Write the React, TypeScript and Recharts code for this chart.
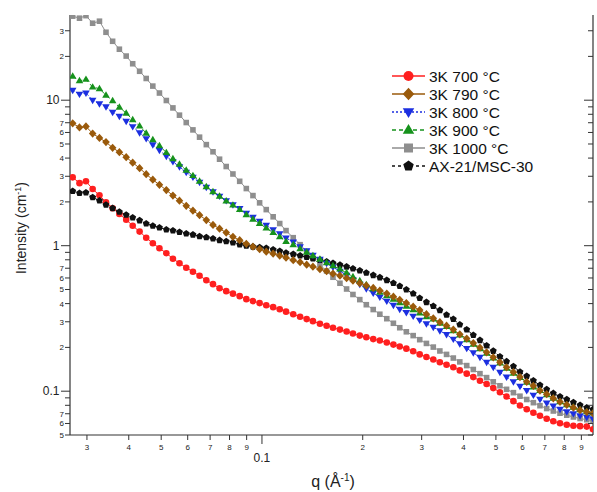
import React from 'react';
import { LineChart, Line, XAxis, YAxis, Legend } from 'recharts';

const FONT = "'Liberation Sans', Arial, Helvetica, sans-serif";

// q values (Å^-1)
const qValues = [
  0.0272, 0.0285, 0.0298, 0.0312, 0.0327, 0.0342, 0.0358, 0.0375, 0.0393, 0.0411,
  0.0431, 0.0451, 0.0472, 0.0494, 0.0518, 0.0542, 0.0567, 0.0594, 0.0622, 0.0651,
  0.0682, 0.0714, 0.0747, 0.0782, 0.0819, 0.0858, 0.0898, 0.094, 0.0984, 0.103,
  0.108, 0.113, 0.118, 0.124, 0.13, 0.136, 0.142, 0.149, 0.156, 0.163,
  0.171, 0.179, 0.187, 0.196, 0.205, 0.215, 0.225, 0.236, 0.247, 0.258,
  0.27, 0.283, 0.296, 0.31, 0.325, 0.34, 0.356, 0.373, 0.39, 0.409,
  0.428, 0.448, 0.469, 0.491, 0.514, 0.538, 0.564, 0.59, 0.618, 0.647,
  0.677, 0.709, 0.742, 0.777, 0.814, 0.852, 0.892, 0.934, 0.975,
];

const i700 = [
  2.95, 2.69, 2.77, 2.45, 2.22, 1.99, 1.81, 1.65, 1.51, 1.37,
  1.25, 1.135, 1.04, 0.961, 0.888, 0.814, 0.758, 0.706, 0.662, 0.622,
  0.579, 0.544, 0.51, 0.487, 0.468, 0.45, 0.429, 0.416, 0.403, 0.39,
  0.378, 0.366, 0.352, 0.338, 0.325, 0.313, 0.303, 0.291, 0.282, 0.273,
  0.265, 0.257, 0.249, 0.241, 0.235, 0.228, 0.223, 0.216, 0.209, 0.203,
  0.196, 0.188, 0.179, 0.172, 0.165, 0.158, 0.152, 0.146, 0.139, 0.132,
  0.125, 0.118, 0.112, 0.105, 0.0984, 0.0919, 0.0854, 0.0798, 0.0752, 0.0711,
  0.0678, 0.0647, 0.0622, 0.0602, 0.0588, 0.0579, 0.0575, 0.0571, 0.0548,
];

const i790 = [
  6.93, 6.5, 6.6, 5.9, 5.5, 5.15, 4.71, 4.39, 4.06, 3.72,
  3.41, 3.1, 2.84, 2.62, 2.41, 2.21, 2.04, 1.88, 1.74, 1.62,
  1.5, 1.39, 1.31, 1.23, 1.15, 1.09, 1.03, 0.984, 0.946, 0.909,
  0.881, 0.854, 0.827, 0.795, 0.77, 0.74, 0.717, 0.689, 0.668, 0.642,
  0.622, 0.598, 0.575, 0.553, 0.532, 0.512, 0.492, 0.469, 0.446, 0.425,
  0.403, 0.381, 0.361, 0.338, 0.317, 0.298, 0.282, 0.265, 0.246, 0.23,
  0.214, 0.199, 0.185, 0.171, 0.158, 0.146, 0.135, 0.125, 0.116, 0.109,
  0.101, 0.0953, 0.0894, 0.0846, 0.0806, 0.077, 0.0741, 0.0719, 0.0704,
];

const i800 = [
  11.7, 11.0, 11.2, 9.99, 9.44, 9.02, 8.27, 7.76, 7.17, 6.58,
  5.98, 5.44, 4.94, 4.53, 4.12, 3.78, 3.49, 3.2, 2.96, 2.73,
  2.52, 2.35, 2.19, 2.04, 1.91, 1.8, 1.67, 1.57, 1.47, 1.38,
  1.29, 1.21, 1.13, 1.06, 0.984, 0.924, 0.861, 0.808, 0.758, 0.712,
  0.668, 0.627, 0.584, 0.543, 0.506, 0.472, 0.443, 0.416, 0.39, 0.366,
  0.347, 0.328, 0.308, 0.291, 0.275, 0.26, 0.245, 0.228, 0.212, 0.197,
  0.184, 0.171, 0.158, 0.146, 0.135, 0.125, 0.116, 0.108, 0.101, 0.094,
  0.0881, 0.0829, 0.079, 0.0752, 0.0723, 0.0701, 0.0678, 0.0662, 0.0647,
];

const i900 = [
  14.6, 13.6, 13.9, 12.3, 12.0, 10.8, 9.9, 8.95, 8.14, 7.33,
  6.64, 5.93, 5.35, 4.87, 4.36, 3.96, 3.63, 3.3, 3.03, 2.77,
  2.54, 2.35, 2.19, 2.03, 1.9, 1.77, 1.63, 1.52, 1.42, 1.32,
  1.23, 1.15, 1.07, 1.016, 0.954, 0.902, 0.854, 0.807, 0.764, 0.729,
  0.69, 0.652, 0.612, 0.575, 0.539, 0.506, 0.479, 0.453, 0.429, 0.406,
  0.384, 0.363, 0.344, 0.325, 0.313, 0.293, 0.278, 0.26, 0.243, 0.226,
  0.21, 0.196, 0.182, 0.169, 0.156, 0.144, 0.133, 0.124, 0.115, 0.107,
  0.101, 0.0945, 0.0894, 0.0846, 0.0806, 0.0775, 0.0746, 0.0723, 0.0707,
];

const i1000 = [
  37.8, 36.6, 38.1, 33.8, 34.9, 29.3, 25.4, 22.4, 20.1, 17.8,
  15.8, 14.1, 12.5, 11.2, 9.95, 8.85, 7.89, 7.02, 6.25, 5.57,
  4.95, 4.42, 3.93, 3.5, 3.11, 2.77, 2.47, 2.21, 1.97, 1.77,
  1.58, 1.42, 1.27, 1.135, 1.016, 0.912, 0.821, 0.74, 0.67, 0.607,
  0.552, 0.504, 0.462, 0.426, 0.393, 0.364, 0.338, 0.315, 0.293, 0.273,
  0.256, 0.241, 0.226, 0.213, 0.201, 0.189, 0.179, 0.169, 0.159, 0.15,
  0.141, 0.132, 0.124, 0.116, 0.109, 0.103, 0.0977, 0.0924, 0.0877, 0.0834,
  0.0795, 0.076, 0.0731, 0.0706, 0.0684, 0.0665, 0.0649, 0.0637, 0.0627,
];

const iAX = [
  2.37, 2.3, 2.32, 2.15, 2.04, 1.91, 1.81, 1.71, 1.63, 1.56,
  1.49, 1.42, 1.37, 1.33, 1.29, 1.27, 1.24, 1.21, 1.19, 1.16,
  1.14, 1.12, 1.09, 1.07, 1.05, 1.02, 1.0, 0.984, 0.972, 0.961,
  0.939, 0.917, 0.893, 0.874, 0.854, 0.834, 0.817, 0.798, 0.776, 0.758,
  0.737, 0.717, 0.695, 0.674, 0.65, 0.627, 0.605, 0.579, 0.553, 0.527,
  0.499, 0.468, 0.436, 0.409, 0.384, 0.36, 0.335, 0.313, 0.287, 0.265,
  0.243, 0.224, 0.206, 0.189, 0.173, 0.16, 0.148, 0.136, 0.127, 0.118,
  0.11, 0.103, 0.0968, 0.0918, 0.0877, 0.0837, 0.0802, 0.0772, 0.0749,
];

const seriesNames = ['3K 700 °C', '3K 790 °C', '3K 800 °C', '3K 900 °C', '3K 1000 °C', 'AX-21/MSC-30'];

const xTickValues = [0.03, 0.04, 0.05, 0.06, 0.07, 0.08, 0.09, 0.1, 0.2, 0.3, 0.4, 0.5, 0.6, 0.7, 0.8, 0.9];
const xTickLabels = ['3', '4', '5', '6', '7', '8', '9', '0.1', '2', '3', '4', '5', '6', '7', '8', '9'];
const xMajorTicks = [0.1];

const yTickValues = [0.05, 0.06, 0.07, 0.08, 0.09, 0.1, 0.2, 0.3, 0.4, 0.5, 0.6, 0.7, 0.8, 0.9, 1, 2, 3, 4, 5, 6, 7, 8, 9, 10, 20, 30];
const yTickLabels = ['5', '6', '7', '', '', '0.1', '2', '3', '4', '5', '6', '7', '', '', '1', '2', '3', '4', '5', '6', '7', '', '', '10', '2', '3'];
const yMajorTicks = [0.1, 1, 10];

const X_DOMAIN = [0.0267, 0.975];
const Y_DOMAIN = [0.05, 38.5];

type Shape = 'circle' | 'diamond' | 'down' | 'up' | 'square' | 'pentagon';

const SERIES: { key: string; name: string; values: number[]; color: string; shape: Shape; dash?: string }[] = [
  { key: 's700', name: seriesNames[0], values: i700, color: '#ff1f1f', shape: 'circle' },
  { key: 's790', name: seriesNames[1], values: i790, color: '#9a5a0b', shape: 'diamond' },
  { key: 's800', name: seriesNames[2], values: i800, color: '#1c2fe0', shape: 'down', dash: '2 2' },
  { key: 's900', name: seriesNames[3], values: i900, color: '#16921c', shape: 'up', dash: '4 3' },
  { key: 's1000', name: seriesNames[4], values: i1000, color: '#8e8e8e', shape: 'square' },
  { key: 'sAX', name: seriesNames[5], values: iAX, color: '#101010', shape: 'pentagon', dash: '3 3' },
];

const DRAW_ORDER = ['s700', 's1000', 'sAX', 's800', 's900', 's790'];

const data = qValues.map((q, i) => {
  const row: any = { q };
  SERIES.forEach((s) => {
    row[s.key] = s.values[i];
  });
  return row;
});

function markerShape(shape: Shape, cx: number, cy: number, s: number, color: string, key?: string) {
  switch (shape) {
    case 'circle':
      return <circle key={key} cx={cx} cy={cy} r={s} fill={color} />;
    case 'diamond':
      return (
        <polygon
          key={key}
          points={`${cx},${cy - s * 1.25} ${cx + s * 1.15},${cy} ${cx},${cy + s * 1.25} ${cx - s * 1.15},${cy}`}
          fill={color}
        />
      );
    case 'down':
      return (
        <polygon
          key={key}
          points={`${cx - s * 1.15},${cy - s * 0.75} ${cx + s * 1.15},${cy - s * 0.75} ${cx},${cy + s * 1.2}`}
          fill={color}
        />
      );
    case 'up':
      return (
        <polygon
          key={key}
          points={`${cx - s * 1.15},${cy + s * 0.75} ${cx + s * 1.15},${cy + s * 0.75} ${cx},${cy - s * 1.2}`}
          fill={color}
        />
      );
    case 'square':
      return <rect key={key} x={cx - s * 0.9} y={cy - s * 0.9} width={s * 1.8} height={s * 1.8} fill={color} />;
    case 'pentagon': {
      const pts: string[] = [];
      for (let k = 0; k < 5; k++) {
        const a = -Math.PI / 2 + (k * 2 * Math.PI) / 5;
        pts.push(`${cx + s * 1.1 * Math.cos(a)},${cy + s * 1.1 * Math.sin(a)}`);
      }
      return <polygon key={key} points={pts.join(' ')} fill={color} />;
    }
    default:
      return <g key={key} />;
  }
}

const AXIS_COLOR = '#333';
const LABEL_COLOR = '#222';

const XTickBottom = (props: any) => {
  const { x, y, payload } = props;
  const idx = xTickValues.indexOf(payload.value);
  const label = idx >= 0 ? xTickLabels[idx] : '';
  const major = xMajorTicks.includes(payload.value);
  return (
    <g>
      <line x1={x} x2={x} y1={y} y2={y + (major ? 9 : 5)} stroke={AXIS_COLOR} strokeWidth={1} />
      <text
        x={x}
        y={major ? y + 27 : y + 15}
        textAnchor="middle"
        fontSize={major ? 12 : 8}
        fontFamily={FONT}
        fill={LABEL_COLOR}
      >
        {label}
      </text>
    </g>
  );
};

const XTickTop = (props: any) => {
  const { x, y, payload } = props;
  const major = xMajorTicks.includes(payload.value);
  return <line x1={x} x2={x} y1={y} y2={y - (major ? 7 : 5)} stroke={AXIS_COLOR} strokeWidth={1} />;
};

const YTickLeft = (props: any) => {
  const { x, y, payload } = props;
  const idx = yTickValues.indexOf(payload.value);
  const label = idx >= 0 ? yTickLabels[idx] : '';
  const major = yMajorTicks.includes(payload.value);
  return (
    <g>
      <line x1={x - (major ? 9 : 5)} x2={x} y1={y} y2={y} stroke={AXIS_COLOR} strokeWidth={1} />
      {label ? (
        <text
          x={major ? x - 10.5 : x - 6}
          y={major ? y + 4.3 : y + 3}
          textAnchor="end"
          fontSize={major ? 12 : 8}
          fontFamily={FONT}
          fill={LABEL_COLOR}
        >
          {label}
        </text>
      ) : null}
    </g>
  );
};

const YTickRight = (props: any) => {
  const { x, y, payload } = props;
  const major = yMajorTicks.includes(payload.value);
  return <line x1={x - (major ? 9 : 5)} x2={x} y1={y} y2={y} stroke={AXIS_COLOR} strokeWidth={1} />;
};

const YTitle = () => (
  <text
    x={21}
    y={228}
    transform="rotate(-90 21 228)"
    textAnchor="middle"
    fontSize={14}
    fontFamily={FONT}
    fill={LABEL_COLOR}
    dy={5}
  >
    Intensity (cm
    <tspan dy={-5} fontSize={9}>
      -1
    </tspan>
    <tspan dy={5}>)</tspan>
  </text>
);

const XTitle = () => (
  <text x={333} y={487} textAnchor="middle" fontSize={16} fontFamily={FONT} fill={LABEL_COLOR}>
    q (Å
    <tspan dy={-6} fontSize={10}>
      -1
    </tspan>
    <tspan dy={6}>)</tspan>
  </text>
);

const LegendBox = () => (
  <svg width={200} height={118} style={{ display: 'block', overflow: 'visible' }}>
    {SERIES.map((s, i) => {
      const cy = 12 + 18 * i;
      return (
        <g key={s.key}>
          <line x1={7} x2={40} y1={cy} y2={cy} stroke={s.color} strokeWidth={1.4} strokeDasharray={s.dash} />
          {markerShape(s.shape, 23.5, cy, 5, s.color)}
          <text x={44} y={cy + 5.5} fontSize={15.5} fontFamily={FONT} fill="#111">
            {s.name}
          </text>
        </g>
      );
    })}
  </svg>
);

export default function App() {
  const ordered = DRAW_ORDER.map((k) => SERIES.find((s) => s.key === k)!);
  return (
    <div style={{ position: 'absolute', left: 0, top: 0, width: 597, height: 492, background: '#fff' }}>
      <LineChart width={597} height={492} data={data} margin={{ top: 15, right: 0, bottom: 0, left: 0 }}>
        <XAxis
          dataKey="q"
          type="number"
          scale="log"
          domain={X_DOMAIN}
          allowDataOverflow
          ticks={xTickValues}
          interval={0}
          height={57}
          tickSize={0}
          tickMargin={0}
          tickLine={false}
          axisLine={{ stroke: AXIS_COLOR, strokeWidth: 1.2 }}
          tick={<XTickBottom />}
          label={<XTitle />}
        />
        <XAxis
          xAxisId="top"
          orientation="top"
          dataKey="q"
          type="number"
          scale="log"
          domain={X_DOMAIN}
          allowDataOverflow
          ticks={xTickValues}
          interval={0}
          height={0}
          tickSize={0}
          tickMargin={0}
          tickLine={false}
          axisLine={{ stroke: AXIS_COLOR, strokeWidth: 1.2 }}
          tick={<XTickTop />}
        />
        <YAxis
          type="number"
          scale="log"
          domain={Y_DOMAIN}
          allowDataOverflow
          ticks={yTickValues}
          interval={0}
          width={70}
          tickSize={0}
          tickMargin={0}
          tickLine={false}
          axisLine={{ stroke: AXIS_COLOR, strokeWidth: 1.2 }}
          tick={<YTickLeft />}
          label={<YTitle />}
        />
        <YAxis
          yAxisId="right"
          orientation="right"
          type="number"
          scale="log"
          domain={Y_DOMAIN}
          allowDataOverflow
          ticks={yTickValues}
          interval={0}
          width={4}
          tickSize={0}
          tickMargin={0}
          tickLine={false}
          axisLine={{ stroke: AXIS_COLOR, strokeWidth: 1.2 }}
          tick={<YTickRight />}
        />
        {ordered.map((s) => (
          <Line
            key={s.key}
            type="linear"
            dataKey={s.key}
            name={s.name}
            stroke={s.color}
            strokeWidth={1}
            strokeDasharray={s.dash}
            isAnimationActive={false}
            activeDot={false}
            dot={(p: any) => markerShape(s.shape, p.cx, p.cy, s.shape === 'square' ? 3.1 : 3.3, s.color, `${s.key}-${p.index}`)}
          />
        ))}
        <Legend
          content={() => <LegendBox />}
          layout="vertical"
          align="center"
          verticalAlign="middle"
          wrapperStyle={{ position: 'absolute', left: 385, top: 64, width: 200, height: 118 }}
        />
      </LineChart>
    </div>
  );
}
